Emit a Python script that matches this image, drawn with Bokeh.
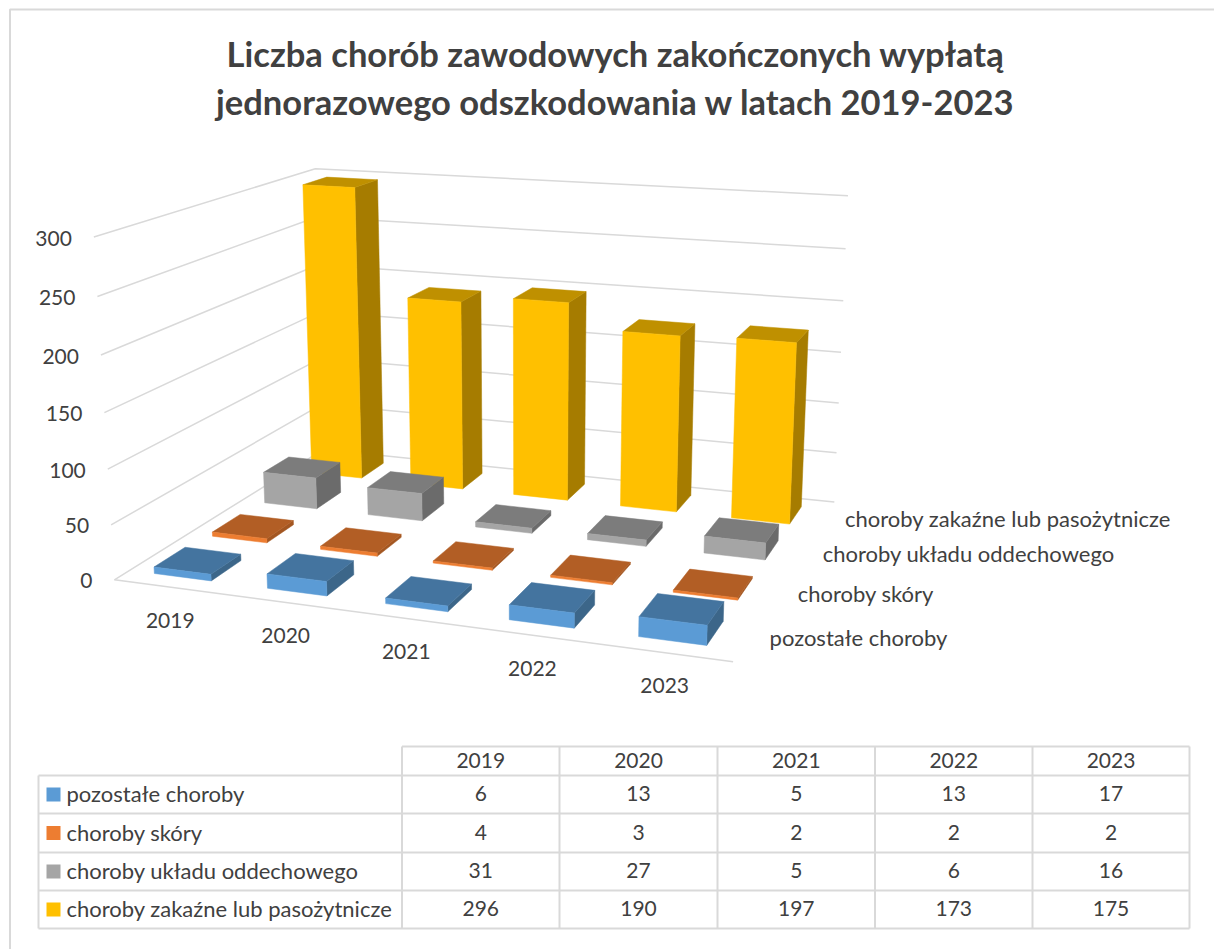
import numpy as np
from bokeh.plotting import figure
from bokeh.embed import file_html
from bokeh.resources import INLINE
from bokeh.core.properties import value

# ---- data ----
years = ["2019", "2020", "2021", "2022", "2023"]
pozostale = [6, 13, 5, 13, 17]
skory = [4, 3, 2, 2, 2]
oddechowe = [31, 27, 5, 6, 16]
zakazne = [296, 190, 197, 173, 175]
series_names = ["pozostałe choroby", "choroby skóry", "choroby układu oddechowego", "choroby zakaźne lub pasożytnicze"]
value_ticks = [0, 50, 100, 150, 200, 250, 300]
title_lines = ["Liczba chorób zawodowych zakończonych wypłatą", "jednorazowego odszkodowania w latach 2019-2023"]

series = [pozostale, skory, oddechowe, zakazne]
FRONT = ["#5B9BD5", "#ED7D31", "#A5A5A5", "#FFC000"]
TOP = ["#44749F", "#B25E25", "#7C7C7C", "#BF9000"]
SIDE = ["#3C6689", "#A35621", "#6B6B6B", "#A67C00"]
FONT = value("Lato")
TXT = "#404040"

# ---- 3D scale: (category fraction, depth fraction, value) -> page pixels ----
anchors = [
    ((0, 0, 0), (112, 579)), ((1, 0, 0), (733, 661)), ((0, 1, 0), (325, 449)), ((1, 1, 0), (833, 502)),
    ((0, 0, 300), (95, 237)), ((0, 1, 300), (313, 168)), ((1, 1, 300), (848, 195)),
]
rows = []
for (X, Z, V), (u, v) in anchors:
    P = [X, Z, V / 300, 1]
    rows.append(P + [0, 0, 0, 0] + [-u * c for c in P])
    rows.append([0, 0, 0, 0] + P + [-v * c for c in P])
M = np.linalg.svd(np.array(rows, float))[2][-1].reshape(3, 4)


def proj(x, z, v):
    h = M @ np.array([x, z, v / 300, 1.0])
    return h[0] / h[2], h[1] / h[2]


def poly(pts):
    q = [proj(*a) for a in pts]
    return [a[0] for a in q], [a[1] for a in q]


W, H = 1214, 949
p = figure(width=W, height=H, x_range=(0, W), y_range=(H, 0), x_axis_type=None, y_axis_type=None,
           toolbar_location=None, output_backend="svg", min_border=0,
           outline_line_color=None, background_fill_color="white")
p.grid.visible = False

GRID = "#D9D9D9"
# chart border: only the top and left edges are inside the picture
p.line([W, 9.5, 9.5], [9, 9, H], line_color=GRID, line_width=2)

# ---- walls and floor lines ----
for t in value_ticks:
    xs, ys = poly([(0, 0, t), (0, 1, t), (1, 1, t)])
    p.line(xs, ys, line_color=GRID, line_width=1.5)
xs, ys = poly([(0, 0, 0), (1, 0, 0)])
p.line(xs, ys, line_color=GRID, line_width=1.5)

# ---- bars ----
BW = 0.51 / 5
BD = 0.52 / 4
for j in range(3, -1, -1):
    for i in range(4, -1, -1):
        v = series[j][i]
        cx = (i + .5) / 5 - 0.004 + 0.00075 * i
        x0, x1 = cx - BW / 2, cx + BW / 2
        z0, z1 = (j + .5) / 4 - BD / 2, (j + .5) / 4 + BD / 2
        for pts, c in (
            ([(x1, z0, 0), (x1, z1, 0), (x1, z1, v), (x1, z0, v)], SIDE[j]),
            ([(x0, z0, v), (x1, z0, v), (x1, z1, v), (x0, z1, v)], TOP[j]),
            ([(x0, z0, 0), (x1, z0, 0), (x1, z0, v), (x0, z0, v)], FRONT[j]),
        ):
            xs, ys = poly(pts)
            p.patch(xs, ys, fill_color=c, line_color=c, line_width=0.5)

# ---- chart labels ----
def label(x, y, s, size=21, align="center", bold=False):
    p.text([x], [y], text=[s], text_font=FONT, text_font_size=value(f"{size}px"), text_align=align,
           text_baseline="middle", text_color=TXT, text_font_style="bold" if bold else "normal")


for t in value_ticks:
    x, y = proj(0, 0, t)
    label(x - 22, y + 1, str(t), align="right")
for i, yr in enumerate(years):
    x, y = proj((i + .5) / 5, 0, 0)
    label(x, y + 33, yr)
for j, name in enumerate(series_names):
    x, y = proj(1, (j + .5) / 4, 0)
    label(x + 21, y, name, size=22, align="left")

label(615, 52.5, title_lines[0], size=34.5, bold=True)
label(615, 100.5, title_lines[1], size=34.5, bold=True)

# ---- data table ----
col = [38, 401.5, 559, 717, 874.5, 1032, 1189]
row = [746, 775, 813, 852, 890, 928]
TW = 2
p.segment(col[1], row[0], col[-1], row[0], line_color=GRID, line_width=TW)
for y in row[1:]:
    p.segment(col[0], y, col[-1], y, line_color=GRID, line_width=TW)
p.segment(col[0], row[1], col[0], row[-1], line_color=GRID, line_width=TW)
for x in col[1:]:
    p.segment(x, row[0], x, row[-1], line_color=GRID, line_width=TW)

for i, yr in enumerate(years):
    label((col[i + 1] + col[i + 2]) / 2, (row[0] + row[1]) / 2 - 1, yr)
for j, name in enumerate(series_names):
    yc = (row[j + 1] + row[j + 2]) / 2
    p.quad(left=[46], right=[60], top=[yc - 7], bottom=[yc + 7], fill_color=FRONT[j], line_color=None)
    label(66, yc - 1, name, size=22, align="left")
    for i in range(5):
        label((col[i + 1] + col[i + 2]) / 2, yc - 1, str(series[j][i]))

open("out.html", "w").write(file_html(p, INLINE))
